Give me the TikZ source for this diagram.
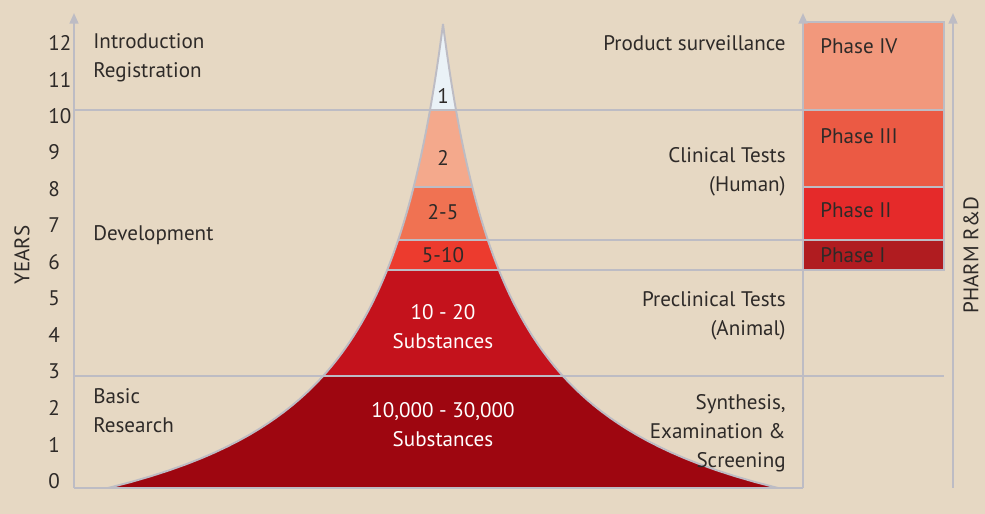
\documentclass[tikz,border=0pt]{standalone}
\usepackage{fontspec}
\setmainfont{PT Sans}
\usetikzlibrary{arrows.meta,positioning}

\definecolor{paper}{HTML}{E6D8C3}
\definecolor{rule}{HTML}{BDBCC4}
\definecolor{ink}{HTML}{2E2A28}
\definecolor{band0}{HTML}{9E0610}
\definecolor{band1}{HTML}{C4121C}
\definecolor{band2}{HTML}{EC3B2E}
\definecolor{band3}{HTML}{F07252}
\definecolor{band4}{HTML}{F4A98C}
\definecolor{band5}{HTML}{EAF2F7}
\definecolor{phaseIV}{HTML}{F2987C}
\definecolor{phaseIII}{HTML}{EB5A44}
\definecolor{phaseII}{HTML}{E52A2A}
\definecolor{phaseI}{HTML}{B01C20}

% half width of the funnel at height h above the base
\pgfmathdeclarefunction{funw}{1}{\pgfmathparse{407.2/((#1+100)/100)-72.2}}

\begin{document}
\begin{tikzpicture}[x=0.02cm, y=0.02cm,
  txt/.style={text=ink, font=\fontsize{12}{16.5}\selectfont, inner sep=0pt},
  axis/.style={draw=rule, line width=1.1pt, -{Triangle[width=5pt,length=6pt]}},
  grid/.style={draw=rule, line width=1.1pt},
  phasebox/.style={draw=rule, line width=1pt}]

  \useasboundingbox[fill=paper] (0,0) rectangle (985,514);

  % funnel bands
  \foreach \lo/\hi/\col in {0/112/band0, 112/218/band1, 218/248/band2,
                            248/301/band3, 301/378/band4, 378/464/band5}
    \fill[\col] plot[domain=\lo:\hi, samples=30] ({443-funw(\x)},{26+\x})
      -- plot[domain=\hi:\lo, samples=30] ({443+funw(\x)},{26+\x}) -- cycle;
  \draw[grid] plot[domain=0:464, samples=80] ({443-funw(\x)},{26+\x});
  \draw[grid] plot[domain=0:464, samples=80] ({443+funw(\x)},{26+\x});

  % phase boxes
  \filldraw[phasebox, fill=phaseIV]  (803,404) rectangle (944,492);
  \filldraw[phasebox, fill=phaseIII] (803,327) rectangle (944,404);
  \filldraw[phasebox, fill=phaseII]  (803,274) rectangle (944,327);
  \filldraw[phasebox, fill=phaseI]   (803,244) rectangle (944,274);

  % axes and rules
  \coordinate (o)   at ( 74, 26);
  \coordinate (ot)  at ( 74,501);
  \coordinate (m)   at (803, 26);
  \coordinate (mt)  at (803,501);
  \coordinate (r)   at (953, 26);
  \coordinate (rt)  at (953,501);
  \coordinate (l10) at ( 74,404);
  \coordinate (r10) at (803,404);
  \coordinate (l7)  at ({443-funw(248)},274);
  \coordinate (r7)  at (803,274);
  \coordinate (l6)  at ({443-funw(218)},244);
  \coordinate (r6)  at (803,244);
  \coordinate (l8)  at ({443-funw(301)},327);
  \coordinate (r8)  at ({443+funw(301)},327);
  \coordinate (l3)  at ( 74,138);
  \coordinate (r3)  at (944,138);

  \draw[axis] (o) -- (ot);
  \draw[axis] (m) -- (mt);
  \draw[axis] (r) -- (rt);
  \draw[grid] (o) -- (m);
  \draw[grid] (l10) -- (r10);
  \draw[grid] (l7) -- (r7);
  \draw[grid] (l6) -- (r6);
  \draw[grid] (l8) -- (r8);
  \draw[grid] (l3) -- (r3);

  % year scale
  \foreach \n in {0,...,12}
    \node[txt, anchor=west] (y\n) at (48,{33+36.5*\n}) {\n};
  \node[txt, rotate=90] (years) at (22,259) {YEARS};
  \node[txt, rotate=90] (pharm) at (971,259) {PHARM R\&D};

  % stages
  \node[txt, anchor=west, align=left] (intro) at (93,456) {Introduction\\Registration};
  \node[txt, anchor=west] (devel) at (93,279) {Development};
  \node[txt, anchor=west, align=left] (basic) at (93,103) {Basic\\Research};

  \node[txt, anchor=east] (surv) at (786,471) {Product surveillance};
  \node[txt, anchor=east, align=right] (clin) at (786,342) {Clinical Tests\\(Human)};
  \node[txt, anchor=east, align=right] (precl) at (786,198) {Preclinical Tests\\(Animal)};
  \node[txt, anchor=east, align=right] (synth) at (786,81) {Synthesis,\\Examination \&\\Screening};

  % substances left in each band
  \node[txt] (n1)  at (443,418) {1};
  \node[txt] (n2)  at (443,356) {2};
  \node[txt] (n5)  at (443,302) {2-5};
  \node[txt] (n10) at (443,259) {5-10};
  \node[txt, text=white, align=center] (n20) at (443,187) {10 - 20\\Substances};
  \node[txt, text=white, align=center] (n30k) at (443,89) {10,000 - 30,000\\Substances};

  % phases
  \node[txt, anchor=west] (ph4) at (820,468) {Phase IV};
  \node[txt, anchor=west] (ph3) at (820,378) {Phase III};
  \node[txt, anchor=west] (ph2) at (820,304) {Phase II};
  \node[txt, anchor=west] (ph1) at (820,259) {Phase I};

\end{tikzpicture}
\end{document}
